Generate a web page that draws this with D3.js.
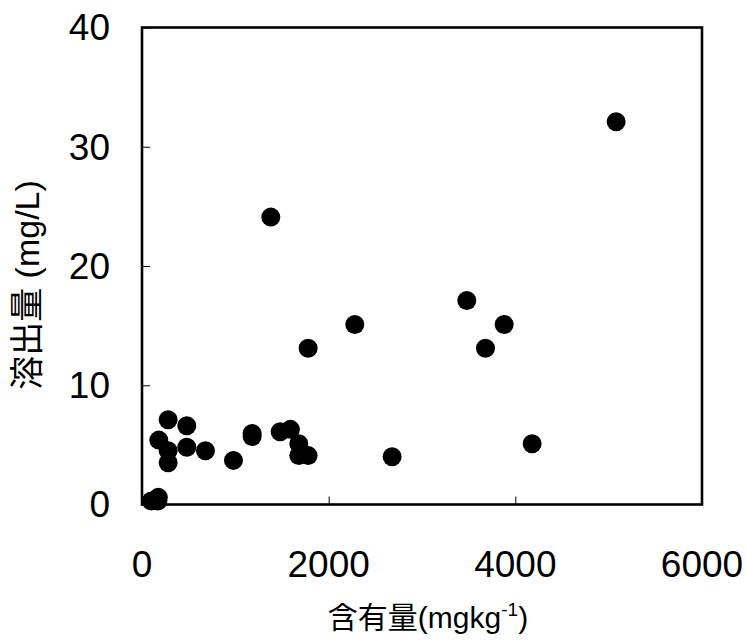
<!DOCTYPE html>
<html>
<head>
<meta charset="utf-8">
<script src="https://cdn.jsdelivr.net/npm/d3@7/dist/d3.min.js"></script>
<style>
  html, body { margin: 0; padding: 0; background: #fff; }
  svg { display: block; }
  text { font-family: "Liberation Sans", Arial, "Noto Sans CJK JP", sans-serif; fill: #000; }
</style>
</head>
<body>
<script>
// 含有量 (mg/kg)
const contentX = [5080, 1380, 2280, 1780, 3480, 3680, 3880, 4180, 2680,
                  1180, 1180, 1480, 1590, 1680, 1680, 1780, 980,
                  280, 480, 180, 280, 280, 480, 680,
                  100, 175, 170];
// 溶出量 (mg/L)
const elutionY = [32.1, 24.1, 15.1, 13.1, 17.1, 13.1, 15.1, 5.1, 4.0,
                  5.7, 5.95, 6.1, 6.3, 5.1, 4.1, 4.1, 3.7,
                  7.1, 6.6, 5.4, 4.5, 3.5, 4.8, 4.5,
                  0.3, 0.6, 0.3];
const xTicks = [0, 2000, 4000, 6000];
const yTicks = [0, 10, 20, 30, 40];
const xTitle = "含有量(mgkg";
const xTitleSup = "-1";
const yTitle = "溶出量 (mg/L)";

(function () {
const W = 747, H = 641;
const mL = 142, mR = 702, mT = 27.5, mB = 504.5;

const svg = d3.select("body").append("svg").attr("width", W).attr("height", H);

const x = d3.scaleLinear().domain([0, 6000]).range([mL, mR]);
const y = d3.scaleLinear().domain([0, 40]).range([mB, mT]);

// points
const pts = contentX.map((v, i) => ({x: v, y: elutionY[i]}));
svg.append("g").selectAll("circle").data(pts).join("circle")
  .attr("cx", d => x(d.x)).attr("cy", d => y(d.y)).attr("r", 9.5)
  .attr("fill", "#000");

// x axis ticks (inward)
const xAxis = d3.axisBottom(x).tickValues(xTicks).tickSize(-8).tickPadding(0).tickFormat("");
const gx = svg.append("g").attr("transform", `translate(0,${mB})`).call(xAxis);
gx.select(".domain").remove();
gx.selectAll(".tick line").attr("stroke", "#000").attr("stroke-width", 1);

const yAxis = d3.axisLeft(y).tickValues(yTicks).tickSize(-8).tickFormat("");
const gy = svg.append("g").attr("transform", `translate(${mL},0)`).call(yAxis);
gy.select(".domain").remove();
gy.selectAll(".tick line").attr("stroke", "#000").attr("stroke-width", 1);

// tick labels
svg.append("g").selectAll("text").data(xTicks).join("text")
  .attr("x", d => x(d)).attr("y", 577)
  .attr("text-anchor", "middle").attr("font-size", 37)
  .text(d => d);
svg.append("g").selectAll("text").data(yTicks).join("text")
  .attr("x", 110).attr("y", d => y(d)).attr("dy", "0.35em")
  .attr("text-anchor", "end").attr("font-size", 37)
  .text(d => d);

// frame
svg.append("rect").attr("x", mL).attr("y", mT)
  .attr("width", mR - mL).attr("height", mB - mT)
  .attr("fill", "none").attr("stroke", "#000").attr("stroke-width", 2.6);

// titles
const xt = svg.append("text").attr("x", (mL + mR) / 2 + 6).attr("y", 628)
  .attr("text-anchor", "middle").attr("font-size", 30);
xt.append("tspan").text(xTitle);
xt.append("tspan").attr("font-size", 19).attr("dy", -12).text(xTitleSup);
xt.append("tspan").attr("dy", 12).text(")");

svg.append("text")
  .attr("transform", `translate(27,285) rotate(-90)`)
  .attr("dy", "0.35em")
  .attr("text-anchor", "middle").attr("font-size", 34)
  .text(yTitle);
})();
</script>
</body>
</html>
